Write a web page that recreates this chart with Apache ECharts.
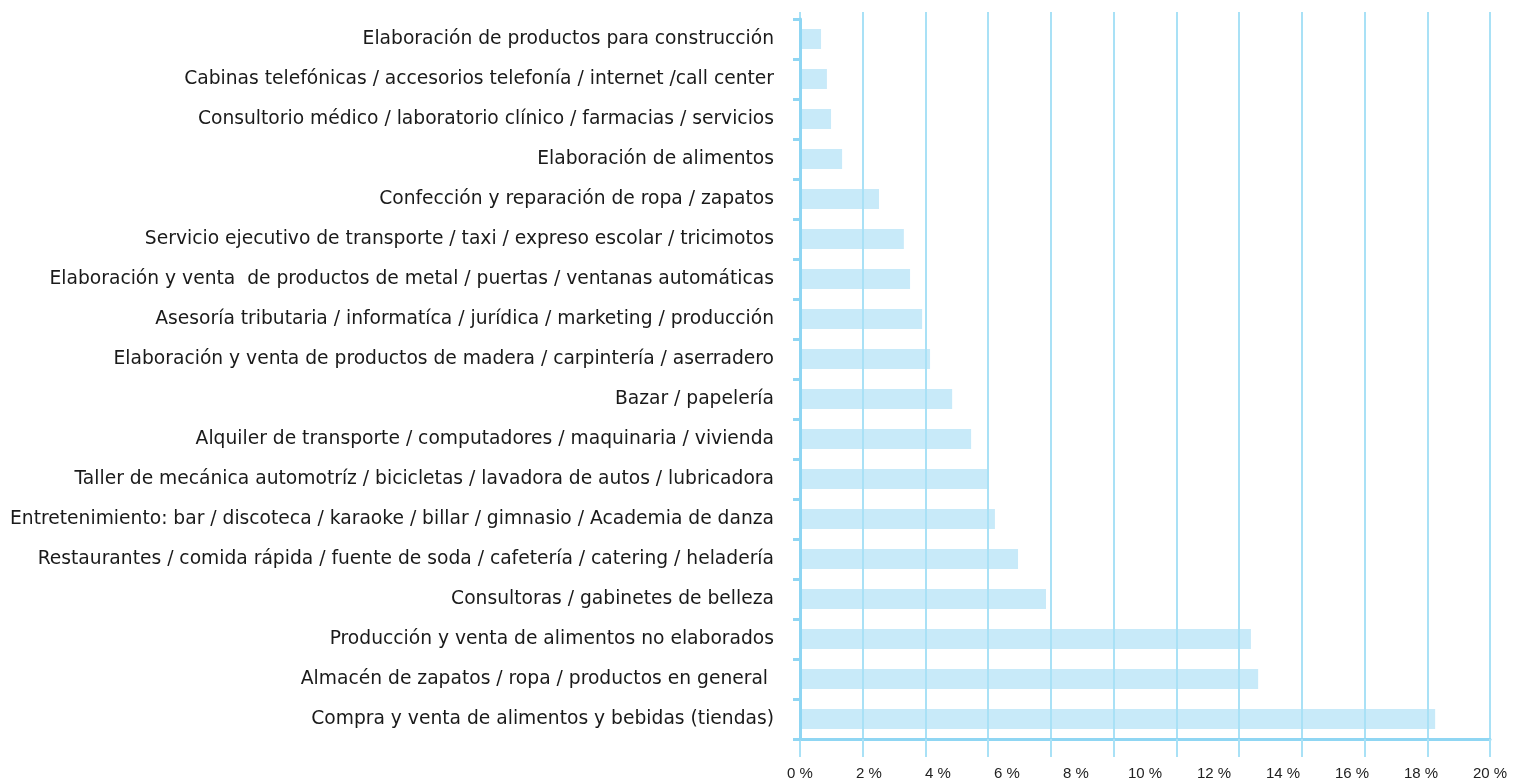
<!DOCTYPE html>
<html>
<head>
<meta charset="utf-8">
<script src="https://cdn.jsdelivr.net/npm/echarts@6/dist/echarts.min.js"></script>
<style>
	html, body { margin: 0; padding: 0; background: #fff; }
	#chart { width: 1527px; height: 783px; }
</style>
</head>
<body>
<div id="chart"></div>
<script>
// actividades, de arriba hacia abajo
var categories = [
	'Elaboración de productos para construcción',
	'Cabinas telefónicas / accesorios telefonía / internet /call center',
	'Consultorio médico / laboratorio clínico / farmacias / servicios',
	'Elaboración de alimentos',
	'Confección y reparación de ropa / zapatos',
	'Servicio ejecutivo de transporte / taxi / expreso escolar / tricimotos',
	'Elaboración y venta  de productos de metal / puertas / ventanas automáticas',
	'Asesoría tributaria / informatíca / jurídica / marketing / producción',
	'Elaboración y venta de productos de madera / carpintería / aserradero',
	'Bazar / papelería',
	'Alquiler de transporte / computadores / maquinaria / vivienda',
	'Taller de mecánica automotríz / bicicletas / lavadora de autos / lubricadora',
	'Entretenimiento: bar / discoteca / karaoke / billar / gimnasio / Academia de danza',
	'Restaurantes / comida rápida / fuente de soda / cafetería / catering / heladería',
	'Consultoras / gabinetes de belleza',
	'Producción y venta de alimentos no elaborados',
	'Almacén de zapatos / ropa / productos en general ',
	'Compra y venta de alimentos y bebidas (tiendas)'
];
// porcentaje
var values = [0.61, 0.78, 0.90, 1.22, 2.29, 3.01, 3.19, 3.54, 3.77, 4.41,
	4.96, 5.43, 5.65, 6.32, 7.13, 13.07, 13.28, 18.41];
// etiquetas del eje x
var tickLabels = [0, 2, 4, 6, 8, 10, 12, 14, 16, 18, 20];
var gridSteps = 11;

var lineColor = '#8fd6f3';
var splitColor = '#a9e1f6';

var chart = echarts.init(document.getElementById('chart'));
var box = { left: 800, right: 37, top: 19, bottom: 44 };

var option = {
	animation: false,
	grid: [
		{ left: box.left, right: box.right, top: box.top, bottom: box.bottom },
		{ left: box.left, right: box.right, top: box.top, bottom: box.bottom }
	],
	xAxis: [ {
		// lineas de la grilla
		gridIndex: 0,
		type: 'value',
		position: 'bottom',
		min: 0,
		max: gridSteps,
		interval: 1,
		z: 3,
		axisLine: { show: true, lineStyle: { color: lineColor, width: 3 } },
		axisTick: { show: true, length: 18, lineStyle: { color: splitColor, width: 2 } },
		axisLabel: { show: false },
		splitLine: { show: true, lineStyle: { color: splitColor, width: 2 } }
	}, {
		gridIndex: 0,
		type: 'value',
		position: 'top',
		min: 0,
		max: gridSteps,
		interval: 1,
		axisLine: { show: false },
		axisTick: { show: true, length: 7, lineStyle: { color: splitColor, width: 2 } },
		axisLabel: { show: false },
		splitLine: { show: false }
	}, {
		// escala de porcentaje
		gridIndex: 1,
		type: 'value',
		position: 'bottom',
		min: tickLabels[0],
		max: tickLabels[tickLabels.length - 1],
		interval: 2,
		axisLine: { show: false },
		axisTick: { show: false },
		splitLine: { show: false },
		axisLabel: {
			margin: 27,
			fontSize: 15,
			color: '#222',
			fontFamily: 'Liberation Sans',
			formatter: '{value} %'
		}
	} ],
	yAxis: [ {
		gridIndex: 0,
		type: 'category',
		inverse: true,
		data: categories,
		z: 4,
		axisLine: { show: true, lineStyle: { color: lineColor, width: 3 } },
		axisTick: { show: true, length: 7, lineStyle: { color: lineColor, width: 3 } },
		axisLabel: {
			margin: 26,
			fontSize: 18.7,
			color: '#1a1a1a',
			fontFamily: 'DejaVu Sans'
		}
	}, {
		gridIndex: 1,
		type: 'category',
		inverse: true,
		data: categories,
		show: false
	} ],
	series: [ {
		type: 'bar',
		xAxisIndex: 2,
		yAxisIndex: 1,
		data: values,
		barWidth: 20,
		itemStyle: { color: '#c8eaf9' }
	} ]
};
chart.setOption(option);
</script>
</body>
</html>
